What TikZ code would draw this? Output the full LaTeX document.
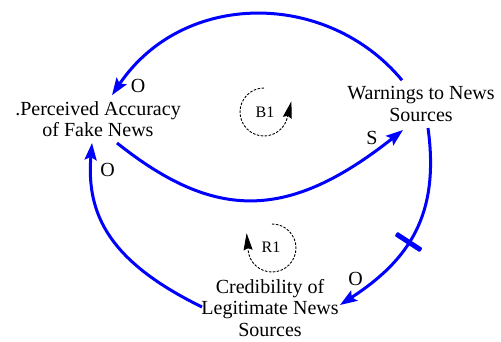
\documentclass[tikz,border=0pt]{standalone}
\usepackage{fontspec}
\setmainfont{Liberation Serif}
\usetikzlibrary{arrows.meta,calc}
\begin{document}
\begin{tikzpicture}[x=1pt,y=1pt,
  var/.style={font=\fontsize{20}{21.5}\selectfont, align=center, inner sep=0pt},
  link/.style={draw=blue, line width=3pt, -{Stealth[length=17pt,width=12pt,inset=3pt]}},
  pol/.style={font=\fontsize{20}{22}\selectfont, inner sep=0pt},
  loopname/.style={font=\fontsize{16}{18}\selectfont, inner sep=0pt},
  loopcirc/.style={draw=black, line width=0.9pt, dash pattern=on 2.5pt off 1.5pt, -{Stealth[length=17pt,width=9pt,inset=2pt]}},
  delaybar/.style={sloped, fill=blue, minimum width=5pt, minimum height=30pt, inner sep=0pt, rounded corners=1pt}
]
\useasboundingbox (0,0) rectangle (501,341);
\node[var] (p) at (98,221.8) {.Perceived Accuracy\\of Fake News};
\node[var] (w) at (421,236.8) {Warnings to News\\Sources};
\node[var] (c) at (270,33) {Credibility of\\Legitimate News\\Sources};

\draw[link] ([shift={(-19,24)}]w.center) .. controls (327,351) and (183,351) .. ([shift={(14,24)}]p.center);
\draw[link] ([shift={(19,-23.8)}]p.center) .. controls (215,120) and (288,120) .. ([shift={(-18,-25.8)}]w.center);
\draw[link] ([shift={(7,-23.8)}]w.center) .. controls (440,126) and (409,81) .. node[delaybar, pos=0.56] (dm) {} ([shift={(70,3)}]c.center);
\draw[link] ([shift={(-68,1)}]c.center) .. controls (110,79) and (86,126) .. ([shift={(-6,-23.8)}]p.center);

\node[pol] (o1) at (138,255) {O};
\node[pol] (s1) at (372,203.5) {S};
\node[pol] (o2) at (355.5,62.5) {O};
\node[pol] (o3) at (107.5,171.5) {O};

\coordinate (b1c) at (264,229);
\coordinate (r1c) at (272,93);
\draw[loopcirc] ([shift={(90:24)}]b1c) arc[start angle=90,end angle=346,radius=24] -- ++(76:17);
\draw[loopcirc] ([shift={(90:24)}]r1c) arc[start angle=90,end angle=-175,radius=24] -- ++(95:17);
\node[loopname] (b1) at (265,229) {B1};
\node[loopname] (r1) at (271,94) {R1};
\end{tikzpicture}
\end{document}
